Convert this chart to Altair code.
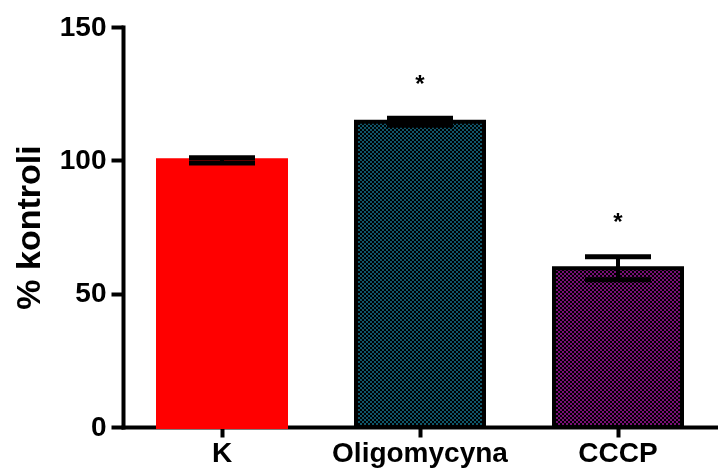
import altair as alt
import pandas as pd

# Bar chart data: mean % of control, SEM and significance marks
categories = ["K", "Oligomycyna", "CCCP"]
means = [100.0, 114.5, 59.5]
sems = [1.0, 1.3, 4.3]
stars = ["", "*", "*"]

# Colours for each group
fill_colors = ["#ff0000", "#0f5669", "#780f76"]
stroke_colors = ["#ff0000", "#000000", "#000000"]

df = pd.DataFrame({"group": categories, "mean": means, "sem": sems, "star": stars})

PLOT_W, PLOT_H = 594, 400
Y_MAX = 150
STEP = PLOT_W / len(categories)
BAR_W = 128            # bar body width in px (stroke adds 2px each side)
CELL = 2               # checker cell size in px
PAD_INNER = (STEP - BAR_W) / STEP


def checker_stops(length, color, from_end=False):
    """Hard-stop gradient stops: alternating colour/black cells of CELL px."""
    segs = []
    j = 0
    while j * CELL < length:
        a, b = j * CELL, min((j + 1) * CELL, length)
        segs.append((a, b, color if j % 2 == 0 else "#000000"))
        j += 1
    stops = []
    if from_end:
        for a, b, c in reversed(segs):
            stops += [{"offset": round(1 - b / length, 6), "color": c},
                      {"offset": round(1 - a / length, 6), "color": c}]
    else:
        for a, b, c in segs:
            stops += [{"offset": round(a / length, 6), "color": c},
                      {"offset": round(b / length, 6), "color": c}]
    return stops


x_enc = alt.X(
    "group:N",
    sort=categories,
    scale=alt.Scale(domain=categories, paddingInner=PAD_INNER, paddingOuter=PAD_INNER / 2),
    axis=alt.Axis(title=None, labelAngle=0, tickSize=10, labelPadding=2),
)
y_scale = alt.Scale(domain=[0, Y_MAX], nice=False, zero=True)
y_enc = alt.Y(
    "mean:Q",
    scale=y_scale,
    axis=alt.Axis(
        title="% kontroli",
        values=[0, 50, 100, 150],
        tickSize=12,
        labelPadding=5,
        titlePadding=13,
        titleFontSize=34,
        titleFontWeight="bold",
        titleFont="Liberation Sans",
        titleColor="black",
        grid=False,
    ),
)

base = alt.Chart(df)

# Solid fill for every bar
bars = base.mark_bar(strokeWidth=0).encode(
    x=x_enc,
    y=y_enc,
    fill=alt.Fill("group:N", scale=alt.Scale(domain=categories, range=fill_colors), legend=None),
)

# Checkered texture: vertical colour/black stripes, then horizontal
# colour/black stripes combined with a "difference" blend (XOR -> checkerboard)
texture_layers = []
for cat, col, m in zip(categories, fill_colors, means):
    if cat == "K":
        continue
    sel = base.transform_filter(alt.datum.group == cat)
    vgrad = {"gradient": "linear", "x1": 0, "x2": 1, "y1": 0, "y2": 0,
             "stops": checker_stops(BAR_W, col)}
    h_px = m * PLOT_H / Y_MAX
    hgrad = {"gradient": "linear", "x1": 0, "x2": 0, "y1": 0, "y2": 1,
             "stops": checker_stops(h_px, col, from_end=True)}
    texture_layers.append(sel.mark_bar(fill=vgrad, strokeWidth=0).encode(x=x_enc, y=y_enc))
    texture_layers.append(
        sel.mark_bar(fill=hgrad, strokeWidth=0, blend="difference").encode(x=x_enc, y=y_enc)
    )

# Bar outlines
outlines = base.mark_bar(fillOpacity=0, strokeWidth=4).encode(
    x=x_enc,
    y=y_enc,
    stroke=alt.Stroke("group:N", scale=alt.Scale(domain=categories, range=stroke_colors), legend=None),
)

err = base.transform_calculate(lo="datum.mean - datum.sem", hi="datum.mean + datum.sem")

whiskers = err.mark_rule(color="black", strokeWidth=4, opacity=1).encode(
    x=x_enc, y=alt.Y("lo:Q", scale=y_scale), y2="hi:Q"
)

caps = err.transform_fold(["lo", "hi"], as_=["end", "val"]).mark_tick(
    color="black", thickness=5, size=BAR_W / 2 + 2, opacity=1
).encode(x=x_enc, y=alt.Y("val:Q", scale=y_scale))

star_marks = err.transform_calculate(sy="datum.hi + 10").mark_text(
    font="Liberation Sans", fontSize=24, fontWeight="bold", color="black", baseline="alphabetic"
).encode(
    x=x_enc,
    y=alt.Y("sy:Q", scale=y_scale),
    text="star:N",
)

chart = (
    alt.layer(bars, *texture_layers, outlines, whiskers, caps, star_marks)
    .resolve_scale(fill="independent", stroke="independent")
    .properties(
        width=PLOT_W,
        height=PLOT_H,
        padding={"left": 123, "top": 27, "right": 1, "bottom": 47},
        autosize=alt.AutoSizeParams(type="none"),
        background="white",
    )
    .configure_view(stroke=None)
    .configure_axis(
        domainColor="black",
        domainWidth=4,
        domainCap="square",
        tickColor="black",
        tickWidth=4,
        labelColor="black",
        labelFont="Liberation Sans",
        labelFontWeight="bold",
        labelFontSize=28,
    )
)

chart.save("out.html", embed_options={"renderer": "svg", "actions": False})
